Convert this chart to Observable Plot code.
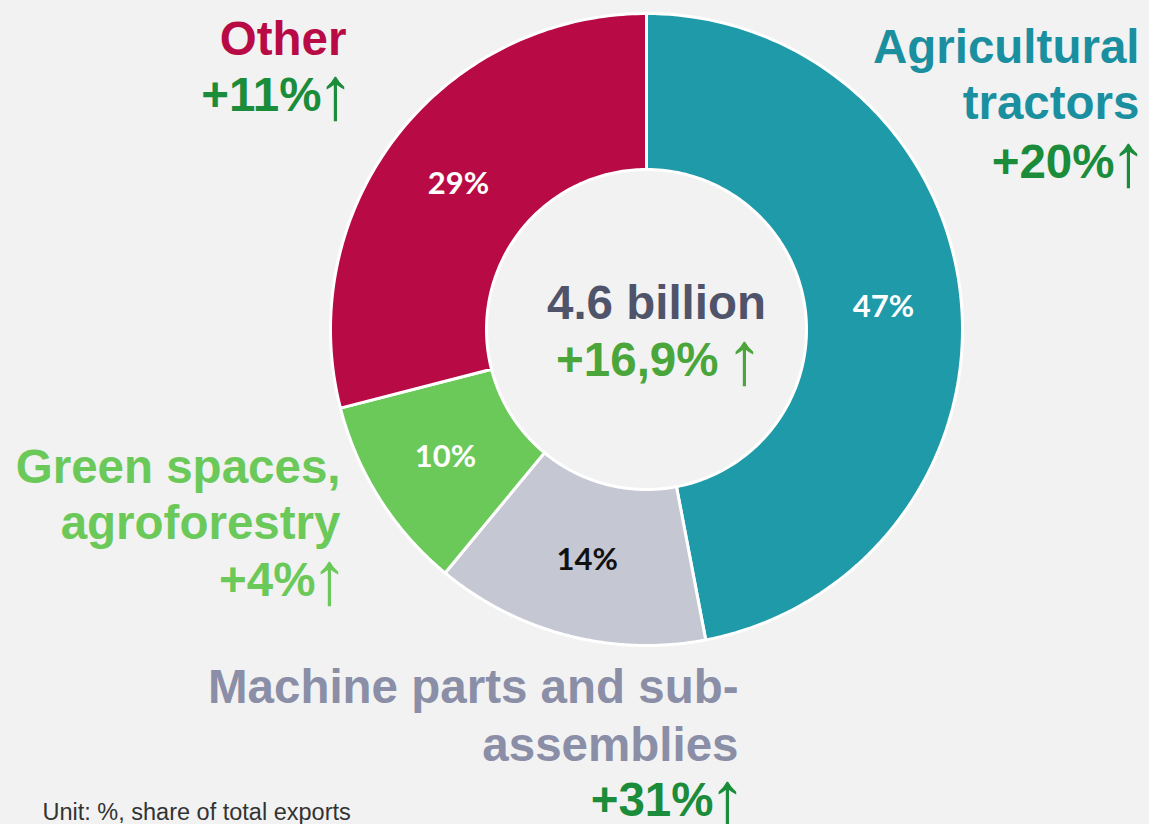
<!DOCTYPE html>
<html>
<head>
<meta charset="utf-8">
<script src="https://cdn.jsdelivr.net/npm/d3@7"></script>
<script src="https://cdn.jsdelivr.net/npm/@observablehq/plot@0.6"></script>
<style>
  html, body { margin: 0; padding: 0; background: #f2f2f2; }
  #chart { width: 1149px; height: 824px; overflow: hidden; }
</style>
</head>
<body>
<div id="chart"></div>
<script>
// ---- data ----
const categories = ["Agricultural tractors", "Machine parts and sub-assemblies", "Green spaces, agroforestry", "Other"];
const shares = [47, 14, 10, 29];
const shareLabels = ["47%", "14%", "10%", "29%"];
const growthLabels = ["+20%", "+31%", "+4%", "+11%"];
const nameLines = [["Agricultural", "tractors"], ["Machine parts and sub-", "assemblies"], ["Green spaces,", "agroforestry"], ["Other"]];
const totalLabel = "4.6 billion";
const totalGrowth = "+16,9%";
const upArrow = "↑";
const caption = "Unit: %, share of total exports";

// ---- styling / layout ----
const FONT = "'Liberation Sans', Arimo, Arial, sans-serif";
const sliceColors = ["#1f9aa9", "#c5c7d3", "#6bc95a", "#b80b45"];
const nameColors = ["#1a8fa0", "#8a8ea6", "#6bc95a", "#b80b45"];
const growthColors = ["#1a8c3a", "#1a8c3a", "#6bc95a", "#1a8c3a"];
const shareTextColors = ["#ffffff", "#111111", "#ffffff", "#ffffff"];
const W = 1149, H = 824;
const cx = 646, cy = 329, R = 316, r0 = 160;
// label anchors (layout): right edge of text block, baselines of lines
const labelLayout = [
  {x: 1139, ys: [62, 118], gy: 177},
  {x: 738, ys: [702, 760], gy: 815},
  {x: 340, ys: [482, 538], gy: 595},
  {x: 346, ys: [54], gy: 110}
];

// ---- geometry from data ----
const pie = d3.pie().sort(null).value(d => d.share);
const rows = categories.map((c, i) => ({cat: c, share: shares[i], i}));
const arcs = pie(rows);
const polyPts = [];
const labelPts = [];
arcs.forEach(a => {
  const n = 120;
  const pts = [];
  for (let k = 0; k <= n; k++) {
    const t = a.startAngle + (a.endAngle - a.startAngle) * k / n;
    pts.push([cx + R * Math.sin(t), cy - R * Math.cos(t)]);
  }
  for (let k = n; k >= 0; k--) {
    const t = a.startAngle + (a.endAngle - a.startAngle) * k / n;
    pts.push([cx + r0 * Math.sin(t), cy - r0 * Math.cos(t)]);
  }
  pts.push(pts[0]);
  pts.forEach(p => polyPts.push({x: p[0], y: p[1], key: a.data.cat, color: sliceColors[a.data.i]}));
  const m = (a.startAngle + a.endAngle) / 2, rm = (R + r0) / 2;
  labelPts.push({x: cx + rm * Math.sin(m), y: cy - rm * Math.cos(m), text: shareLabels[a.data.i], color: shareTextColors[a.data.i]});
});

const nameRows = [];
const growthRows = [];
const arrowRows = [];
nameLines.forEach((lines, i) => {
  lines.forEach((t, j) => nameRows.push({x: labelLayout[i].x, y: labelLayout[i].ys[j], text: t, color: nameColors[i]}));
  growthRows.push({x: labelLayout[i].x - 25, y: labelLayout[i].gy, text: growthLabels[i], color: growthColors[i]});
  arrowRows.push({x: labelLayout[i].x - 11, y: labelLayout[i].gy, text: upArrow, color: growthColors[i]});
});
arrowRows.push({x: 744, y: 375, text: upArrow, color: "#4aa53a"});

const plot = Plot.plot({
  width: W, height: H,
  margin: 0,
  x: {domain: [0, W], range: [0, W], axis: null},
  y: {domain: [0, H], range: [0, H], axis: null},
  style: {background: "#f2f2f2", fontFamily: FONT, overflow: "visible"},
  marks: [
    Plot.line(polyPts, {x: "x", y: "y", z: "key", fill: "color", stroke: "white", strokeWidth: 3, strokeLinejoin: "round", curve: "linear"}),
    Plot.text(labelPts, {x: "x", y: "y", text: "text", fill: "color", fontSize: 31, fontWeight: "bold", fontFamily: "Lato, 'Open Sans', sans-serif", textAnchor: "middle", lineAnchor: "middle"}),
    Plot.text(nameRows, {x: "x", y: "y", text: "text", fill: "color", fontSize: 47.5, fontWeight: "bold", fontFamily: FONT, textAnchor: "end", lineAnchor: "bottom"}),
    Plot.text(growthRows, {x: "x", y: "y", text: "text", fill: "color", fontSize: 47.5, fontWeight: "bold", fontFamily: FONT, textAnchor: "end", lineAnchor: "bottom"}),
    Plot.text(arrowRows, {x: "x", y: "y", dy: 8, text: "text", fill: "color", fontSize: 75, fontWeight: "normal", fontFamily: FONT, textAnchor: "middle", lineAnchor: "bottom"}),
    Plot.text([totalLabel], {x: () => 656, y: () => 318, text: d => d, fill: "#50546a", fontSize: 47.5, fontWeight: "bold", fontFamily: FONT, textAnchor: "middle", lineAnchor: "bottom"}),
    Plot.text([totalGrowth], {x: () => 718, y: () => 375, text: d => d, fill: "#4aa53a", fontSize: 47.5, fontWeight: "bold", fontFamily: FONT, textAnchor: "end", lineAnchor: "bottom"}),
    Plot.text([caption], {x: () => 42, y: () => 819, text: d => d, fill: "#333333", fontSize: 23.5, fontFamily: FONT, textAnchor: "start", lineAnchor: "bottom"})
  ]
});
document.getElementById("chart").appendChild(plot);
</script>
</body>
</html>
